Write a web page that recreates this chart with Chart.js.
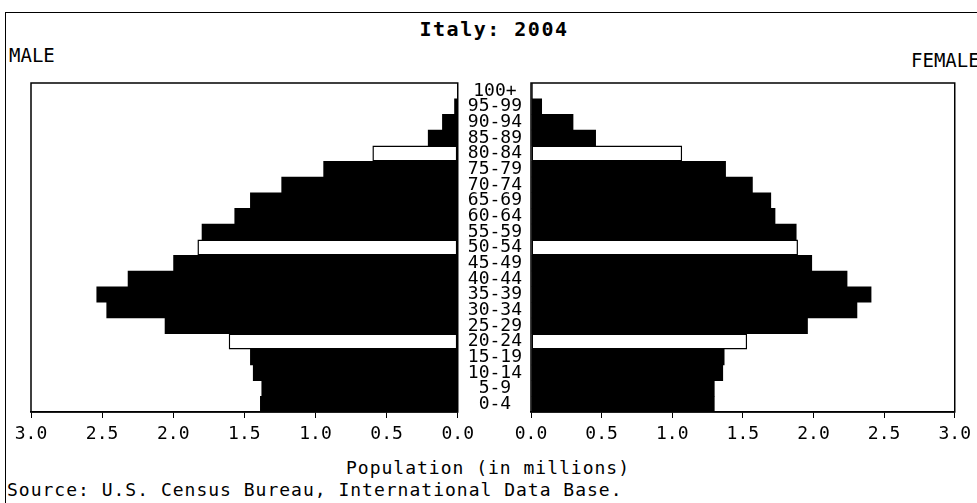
<!DOCTYPE html>
<html>
<head>
<meta charset="utf-8">
<script src="https://cdn.jsdelivr.net/npm/chart.js@4"></script>
<style>
  body { margin: 0; width: 977px; height: 503px; background: #fff; position: relative; overflow: hidden;
         font-family: "DejaVu Sans Mono", monospace; color: #000; }
  canvas { position: absolute; top: 0; }
  #frame { position: absolute; left: 5px; top: 12px; width: 1000px; height: 600px;
           border-left: 1px solid #000; border-top: 1px solid #000; }
  .txt { position: absolute; white-space: nowrap; line-height: 20px; }
</style>
</head>
<body>
<div id="frame"></div>
<div class="txt" style="left:0;width:988px;text-align:center;top:19px;font-weight:bold;font-size:20px;letter-spacing:1.5px;">Italy: 2004</div>
<div class="txt" style="left:9px;top:45px;font-size:19px;">MALE</div>
<div class="txt" style="left:911px;top:50px;font-size:19px;">FEMALE</div>
<div class="txt" style="left:0;width:976px;text-align:center;top:458px;font-size:18px;letter-spacing:1px;">Population (in millions)</div>
<div class="txt" style="left:7px;top:480px;font-size:18px;letter-spacing:1px;">Source: U.S. Census Bureau, International Data Base.</div>

<canvas id="male" width="480" height="503" style="left:0"></canvas>
<canvas id="female" width="518" height="503" style="left:459px"></canvas>

<script>
// age groups, youngest first
const ages = ['0-4', '5-9', '10-14', '15-19', '20-24', '25-29', '30-34', '35-39', '40-44', '45-49',
              '50-54', '55-59', '60-64', '65-69', '70-74', '75-79', '80-84', '85-89', '90-94', '95-99', '100+'];

// population in millions
const male   = [1.39, 1.38, 1.44, 1.46, 1.61, 2.06, 2.47, 2.54, 2.32, 2.00,
                1.83, 1.80, 1.57, 1.46, 1.24, 0.945, 0.60, 0.21, 0.11, 0.025, 0.004];
const female = [1.30, 1.30, 1.36, 1.37, 1.53, 1.96, 2.31, 2.41, 2.24, 1.99,
                1.89, 1.88, 1.73, 1.70, 1.57, 1.38, 1.07, 0.46, 0.30, 0.078, 0.012];

// groups drawn as open (white) bars
const openGroups = ['20-24', '50-54', '80-84'];

const fills = ages.map(a => openGroups.includes(a) ? '#fff' : '#000');
const borders = ages.map(a => openGroups.includes(a) ? 1.5 : 0);

const monoFont = { family: 'DejaVu Sans Mono', size: 18 };

// draws the box round the plot area
const frame = {
  id: 'frame',
  afterDatasetsDraw(chart) {
    const { ctx, chartArea: a } = chart;
    ctx.save();
    ctx.strokeStyle = '#000';
    ctx.lineWidth = 1.5;
    ctx.strokeRect(a.left, a.top, a.right - a.left, a.bottom - a.top);
    ctx.restore();
  }
};

function xAxis(reverse) {
  return {
    reverse: reverse,
    min: 0,
    max: 3,
    ticks: {
      stepSize: 0.5,
      autoSkip: false,
      maxRotation: 0,
      color: '#000',
      font: monoFont,
      padding: 6,
      callback: v => v.toFixed(1)
    },
    grid: { drawOnChartArea: false, tickLength: 6, color: '#000' },
    border: { color: '#000', width: 1.5 },
    afterFit(s) { s.height = 40; }
  };
}

function dataset(values) {
  return {
    data: values,
    backgroundColor: fills,
    borderColor: '#000',
    borderWidth: borders,
    borderSkipped: false,
    barPercentage: 1.03,
    categoryPercentage: 1
  };
}

new Chart(document.getElementById('male'), {
  type: 'bar',
  data: { labels: ages, datasets: [dataset(male)] },
  options: {
    indexAxis: 'y',
    responsive: false,
    animation: false,
    layout: { padding: { left: 31, right: 21, top: 83, bottom: 51 } },
    plugins: { legend: { display: false }, tooltip: { enabled: false } },
    scales: {
      x: xAxis(true),
      y: { display: false, reverse: true }
    }
  },
  plugins: [frame]
});

new Chart(document.getElementById('female'), {
  type: 'bar',
  data: { labels: ages, datasets: [dataset(female)] },
  options: {
    indexAxis: 'y',
    responsive: false,
    animation: false,
    layout: { padding: { left: 0, right: 17, top: 83, bottom: 51 } },
    plugins: { legend: { display: false }, tooltip: { enabled: false } },
    scales: {
      x: xAxis(false),
      y: {
        reverse: true,
        position: 'left',
        ticks: { autoSkip: false, crossAlign: 'center', padding: 9, color: '#000', font: monoFont },
        grid: { display: false, drawTicks: false },
        border: { display: false },
        afterFit(s) { s.width = 72; }
      }
    }
  },
  plugins: [frame]
});
</script>
</body>
</html>
